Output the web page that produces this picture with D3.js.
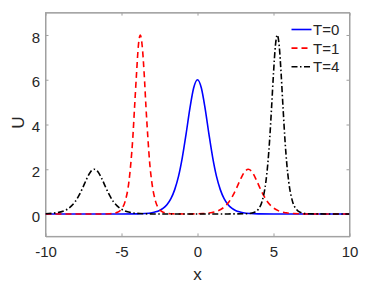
<!DOCTYPE html>
<html><head><meta charset="utf-8">
<script src="https://cdn.jsdelivr.net/npm/d3@7"></script>
<style>body{margin:0;background:#fff}svg{display:block}text{font-family:"Liberation Sans",Arial,Helvetica,sans-serif}</style>
</head><body><div id="c"></div>
<script>
const xTicks = [-10, -5, 0, 5, 10];
const yTicks = [0, 2, 4, 6, 8];
const seriesNames = ["T=0", "T=1", "T=4"];

const x0 = [-10,-6,-5,-4,-3.5,-3,-2.75,-2.5,-2.25,-2,-1.75,-1.5,-1.25,-1,-0.75,-0.5,-0.25,0,0.25,0.5,0.75,1,1.25,1.5,1.75,2,2.25,2.5,2.75,3,3.5,4,5,6,10];
const u0 = [0,0,0.001,0.008,0.022,0.059,0.097,0.160,0.261,0.424,0.684,1.09,1.68,2.52,3.58,4.72,5.64,6,5.64,4.72,3.58,2.52,1.68,1.09,0.684,0.424,0.261,0.160,0.097,0.059,0.022,0.008,0.001,0,0];

const x1 = [-10,-6.5,-5.76,-5.26,-5.01,-4.76,-4.51,-4.39,-4.26,-4.14,-4.01,-3.89,-3.76,-3.64,-3.51,-3.39,-3.26,-3.14,-3.01,-2.76,-2.51,-2.26,-1.76,-0.66,0.34,0.84,1.34,1.84,2.09,2.34,2.59,2.84,3.09,3.34,3.59,3.84,4.09,4.34,4.59,4.84,5.34,5.84,6.34,7.34,10];
const u1 = [0,0,0.011,0.079,0.213,0.566,1.45,2.24,3.36,4.78,6.29,7.52,8,7.52,6.29,4.78,3.36,2.24,1.45,0.566,0.213,0.079,0.011,0.003,0.020,0.053,0.141,0.362,0.56,0.84,1.19,1.57,1.88,2,1.88,1.57,1.19,0.84,0.56,0.362,0.141,0.053,0.020,0.003,0];

const x4 = [-10,-9.79,-8.79,-8.29,-8.04,-7.79,-7.54,-7.29,-7.04,-6.79,-6.54,-6.29,-6.04,-5.79,-5.54,-5.29,-4.79,-4.29,-3.79,-2.79,0,3.25,3.75,4.0,4.25,4.5,4.625,4.75,4.875,5.0,5.125,5.25,5.375,5.5,5.625,5.75,5.875,6.0,6.25,6.5,6.75,7.25,10];
const u4 = [0.013,0.020,0.141,0.362,0.56,0.84,1.19,1.57,1.88,2,1.88,1.57,1.19,0.84,0.56,0.362,0.141,0.053,0.020,0.003,0,0.011,0.079,0.213,0.566,1.45,2.24,3.36,4.78,6.29,7.52,8,7.52,6.29,4.78,3.36,2.24,1.45,0.566,0.213,0.079,0.011,0];

const W = 374, H = 291;
const L = 45.5, R = 349.5, T = 12.6, B = 236.4;
const svg = d3.select("#c").append("svg").attr("width", W).attr("height", H);
const x = d3.scaleLinear().domain([-10, 10]).range([L, R]);
const y = d3.scaleLinear().domain([-1, 9]).range([B, T]);
const txt = "#262626", axc = "#a0a0a0";

// frame
svg.append("rect").attr("x", L).attr("y", T).attr("width", R - L).attr("height", B - T)
  .attr("fill", "none").attr("stroke", axc).attr("stroke-width", 1);

// ticks via axes
const gx = svg.append("g").attr("transform", `translate(0,${B})`)
  .call(d3.axisBottom(x).tickValues(xTicks).tickSizeInner(-3).tickSizeOuter(0).tickPadding(10).tickFormat(d3.format("d")));
const gxt = svg.append("g").attr("transform", `translate(0,${T})`)
  .call(d3.axisTop(x).tickValues(xTicks).tickSizeInner(-3).tickSizeOuter(0).tickFormat(""));
const gy = svg.append("g").attr("transform", `translate(${L},0)`)
  .call(d3.axisLeft(y).tickValues(yTicks).tickSizeInner(-3).tickSizeOuter(0).tickPadding(5.5).tickFormat(d3.format("d")));
const gyr = svg.append("g").attr("transform", `translate(${R},0)`)
  .call(d3.axisRight(y).tickValues(yTicks).tickSizeInner(-3).tickSizeOuter(0).tickFormat(""));
[gx, gxt, gy, gyr].forEach(g => {
  g.select(".domain").attr("stroke", axc);
  g.selectAll(".tick line").attr("stroke", axc);
  g.selectAll("text").attr("fill", txt).style("font-size", "15px");
});
gy.selectAll("text").attr("dy", "0.47em");
gx.selectAll("text").text(d => d < 0 ? "-" + Math.abs(d) : d);

// data lines
const line = d3.line().x(d => x(d[0])).y(d => y(d[1])).curve(d3.curveMonotoneX);
const series = [
  {xs: x0, ys: u0, color: "#0000ff", dash: null},
  {xs: x1, ys: u1, color: "#ff0000", dash: "6,4"},
  {xs: x4, ys: u4, color: "#000000", dash: "6,2.5,1.5,2.5"}
];
svg.append("clipPath").attr("id", "cp").append("rect")
  .attr("x", L).attr("y", T).attr("width", R - L).attr("height", B - T);
series.forEach(s => {
  svg.append("path").datum(s.xs.map((v, i) => [v, s.ys[i]]))
    .attr("d", line).attr("fill", "none").attr("stroke", s.color)
    .attr("stroke-width", 1.6).attr("stroke-dasharray", s.dash)
    .attr("clip-path", "url(#cp)");
});

// legend
const lg = svg.append("g");
series.forEach((s, i) => {
  const yy = 29.5 + i * 18.6;
  lg.append("line").attr("x1", 291.5).attr("x2", 311.5).attr("y1", yy).attr("y2", yy)
    .attr("stroke", s.color).attr("stroke-width", 1.6).attr("stroke-dasharray", s.dash);
  lg.append("text").attr("x", 313).attr("y", yy + 5.5).attr("fill", txt)
    .style("font-size", "15px").text(seriesNames[i]);
});

// axis labels
svg.append("text").attr("x", (L + R) / 2).attr("y", 280).attr("text-anchor", "middle")
  .attr("fill", txt).style("font-size", "17px").text("x");
svg.append("text").attr("transform", `translate(23.5,122.5) rotate(-90)`).attr("text-anchor", "middle")
  .attr("fill", txt).style("font-size", "17px").text("U");
</script></body></html>
